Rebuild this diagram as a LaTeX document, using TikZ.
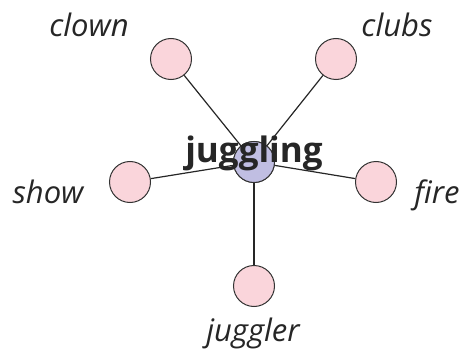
\documentclass[tikz,border=0pt]{standalone}
\usepackage{fontspec}
\setmainfont{Open Sans}
\begin{document}
\begin{tikzpicture}[x=1pt,y=-1pt,
  leaf/.style={circle,draw=black!80,line width=1pt,fill={rgb,255:red,250;green,213;blue,219},minimum size=41pt,inner sep=0pt},
  hub/.style={circle,draw=black!80,line width=1pt,fill={rgb,255:red,192;green,190;blue,226},minimum size=41pt,inner sep=0pt},
  lab/.style={font=\fontsize{31}{36}\selectfont\itshape,text=black!85,inner sep=0pt},
  link/.style={draw=black!85,line width=1.2pt}]
\useasboundingbox (0,0) rectangle (461,353);
\node[hub] (c) at (254,162) {};
\node[leaf] (clown) at (171,59) {};
\node[leaf] (clubs) at (336,59) {};
\node[leaf] (show) at (130,182) {};
\node[leaf] (fire) at (376,182) {};
\node[leaf] (jug) at (254,286) {};
\foreach \n in {clown,clubs,show,fire,jug} \draw[link] (c.center) -- (\n);
\node[hub] at (c) {};
\node[font=\fontsize{35}{40}\selectfont\bfseries,text=black!85,inner sep=0pt,anchor=base] (t) at (254,162) {juggling};
\node[lab,anchor=base] (l1) at (89,37) {clown};
\node[lab,anchor=base] (l2) at (397,37) {clubs};
\node[lab,anchor=base] (l3) at (48,203) {show};
\node[lab,anchor=base] (l4) at (437,203) {fire};
\node[lab,anchor=base] (l5) at (253,341) {juggler};
\end{tikzpicture}
\end{document}
